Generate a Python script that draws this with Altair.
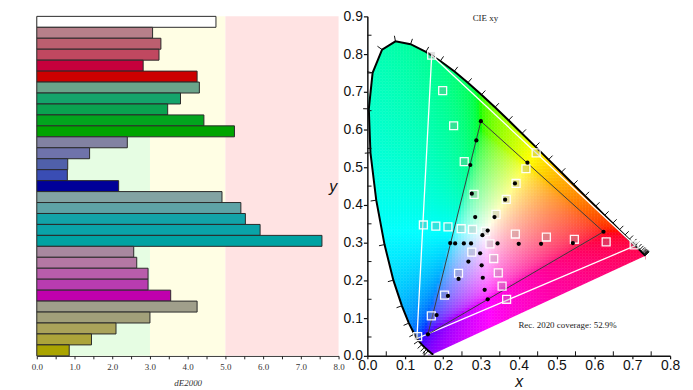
import altair as alt
import numpy as np
import pandas as pd

# ---------------- left panel data ----------------
bar_values = [4.75, 3.07, 3.29, 3.24, 2.82, 4.25, 4.31, 3.81, 3.47, 4.43, 5.24,
              2.40, 1.40, 0.82, 0.81, 2.17, 4.91, 5.41, 5.53, 5.92, 7.56,
              2.57, 2.65, 2.95, 2.95, 3.55, 4.25, 3.00, 2.10, 1.45, 0.86]
bar_colors = ["#ffffff", "#b7808a", "#bc5f6f", "#c04860", "#c6003c", "#cc0000",
              "#6aa48a", "#14a46b", "#0aa250", "#02a51e", "#00a400",
              "#8282a2", "#6f73ab", "#5060aa", "#3a4db4", "#000099",
              "#82a3a3", "#5ea3a6", "#12a3a8", "#0aa3a8", "#00a2a2",
              "#a8889f", "#b478a4", "#b85dab", "#b83cb0", "#c000ad",
              "#a09f8b", "#a2a07a", "#aaa35a", "#aca43a", "#aaa400"]
band_x0 = [0.0, 5.0, 0.0]
band_x1 = [5.0, 8.0, 3.0]
band_row0 = [0, 0, 11]
band_row1 = [31, 31, 31]
band_colors = ["#fffee4", "#ffe3e3", "#e6fde3"]
left_tick_values = [0.0, 0.5, 1.0, 1.5, 2.0, 2.5, 3.0, 3.5, 4.0, 4.5, 5.0, 5.5, 6.0, 6.5, 7.0, 7.5, 8.0]

# ---------------- right panel data ----------------
locus_nm = [380, 385, 390, 395, 400, 405, 410, 415, 420, 425, 430, 435, 440, 445, 450, 455,
            460, 465, 470, 475, 480, 485, 490, 495, 500, 505, 510, 515, 520, 525, 530, 535,
            540, 545, 550, 555, 560, 565, 570, 575, 580, 585, 590, 595, 600, 605, 610, 615,
            620, 625, 630, 635, 640, 645, 650, 655, 660, 665, 670, 675, 680, 690, 700]
locus_x = [0.1741, 0.1740, 0.1738, 0.1736, 0.1733, 0.1730, 0.1726, 0.1721, 0.1714, 0.1703,
           0.1689, 0.1669, 0.1644, 0.1611, 0.1566, 0.1510, 0.1440, 0.1355, 0.1241, 0.1096,
           0.0913, 0.0687, 0.0454, 0.0235, 0.0082, 0.0039, 0.0139, 0.0389, 0.0743, 0.1142,
           0.1547, 0.1929, 0.2296, 0.2658, 0.3016, 0.3373, 0.3731, 0.4087, 0.4441, 0.4788,
           0.5125, 0.5448, 0.5752, 0.6029, 0.6270, 0.6482, 0.6658, 0.6801, 0.6915, 0.7006,
           0.7079, 0.7140, 0.7190, 0.7230, 0.7260, 0.7283, 0.7300, 0.7311, 0.7320, 0.7327,
           0.7334, 0.7344, 0.7347]
locus_y = [0.0050, 0.0050, 0.0049, 0.0049, 0.0048, 0.0048, 0.0048, 0.0048, 0.0051, 0.0058,
           0.0069, 0.0086, 0.0109, 0.0138, 0.0177, 0.0227, 0.0297, 0.0399, 0.0578, 0.0868,
           0.1327, 0.2007, 0.2950, 0.4127, 0.5384, 0.6548, 0.7502, 0.8120, 0.8338, 0.8262,
           0.8059, 0.7816, 0.7543, 0.7243, 0.6923, 0.6589, 0.6245, 0.5896, 0.5547, 0.5202,
           0.4866, 0.4544, 0.4242, 0.3965, 0.3725, 0.3514, 0.3340, 0.3197, 0.3083, 0.2993,
           0.2920, 0.2859, 0.2809, 0.2770, 0.2740, 0.2717, 0.2700, 0.2689, 0.2680, 0.2673,
           0.2666, 0.2656, 0.2653]

rec2020_x = [0.708, 0.170, 0.131, 0.708]
rec2020_y = [0.292, 0.797, 0.046, 0.292]
gamut_x = [0.624, 0.300, 0.160, 0.624]
gamut_y = [0.329, 0.622, 0.057, 0.329]

target_x = [0.170, 0.199, 0.228, 0.256, 0.282,
            0.340, 0.367, 0.393, 0.419, 0.446,
            0.391, 0.473, 0.547, 0.631, 0.705,
            0.324, 0.334, 0.346, 0.356, 0.368,
            0.276, 0.241, 0.204, 0.169, 0.133,
            0.278, 0.248, 0.213, 0.181, 0.148,
            0.312]
target_y = [0.797, 0.703, 0.610, 0.515, 0.428,
            0.375, 0.415, 0.457, 0.496, 0.538,
            0.323, 0.315, 0.309, 0.302, 0.294,
            0.297, 0.258, 0.220, 0.185, 0.150,
            0.275, 0.219, 0.161, 0.106, 0.051,
            0.335, 0.337, 0.342, 0.344, 0.347,
            0.330]
meas_x = [0.300, 0.288, 0.272, 0.276, 0.285,
          0.423, 0.390, 0.364, 0.336, 0.318,
          0.624, 0.543, 0.459, 0.400, 0.344,
          0.318, 0.310, 0.305, 0.302, 0.298,
          0.160, 0.183, 0.213, 0.241, 0.267,
          0.219, 0.232, 0.255, 0.274,
          0.304]
meas_y = [0.622, 0.571, 0.506, 0.430, 0.368,
          0.512, 0.457, 0.414, 0.368, 0.332,
          0.329, 0.299, 0.297, 0.297, 0.298,
          0.150, 0.175, 0.207, 0.240, 0.272,
          0.057, 0.108, 0.159, 0.204, 0.250,
          0.299, 0.298, 0.298, 0.298,
          0.320]

x_ticks = [0.0, 0.1, 0.2, 0.3, 0.4, 0.5, 0.6, 0.7, 0.8]
y_ticks = [0.0, 0.1, 0.2, 0.3, 0.4, 0.5, 0.6, 0.7, 0.8, 0.9]
x_minor = [0.05, 0.15, 0.25, 0.35, 0.45, 0.55, 0.65, 0.75]
y_minor = [0.05, 0.15, 0.25, 0.35, 0.45, 0.55, 0.65, 0.75, 0.85]
white_point = (0.3127, 0.3290)
coverage_text = "Rec. 2020 coverage: 52.9%"

# ================= LEFT PANEL =================
bars_df = pd.DataFrame({"r0": list(range(31)), "r1": list(range(1, 32)),
                        "v0": [0.0] * 31, "v": bar_values, "c": bar_colors})
bands_df = pd.DataFrame({"x0": band_x0, "x1": band_x1, "r0": band_row0,
                         "r1": band_row1, "c": band_colors})

xl = alt.Scale(domain=[0, 8], nice=False)
yl = alt.Scale(domain=[0, 31], reverse=True, nice=False)
xaxis_l = alt.Axis(values=left_tick_values,
                   labelExpr="datum.value % 1 === 0 ? format(datum.value, '.1f') : ''",
                   title="dE2000", titleFont="Liberation Serif", titleFontStyle="italic",
                   titleFontWeight="normal", titleFontSize=9, titleColor="#333",
                   titleY=27, titleBaseline="middle",
                   labelFont="Liberation Serif", labelFontSize=9, labelColor="#333",
                   tickSize=3, tickColor="#222", domainColor="#222", labelPadding=4,
                   labelFlush=False, grid=False)
yaxis_l = alt.Axis(labels=False, ticks=False, title="", domainColor="#222", grid=False)

bands = alt.Chart(bands_df).mark_rect().encode(
    x=alt.X("x0:Q", scale=xl, axis=xaxis_l), x2="x1:Q",
    y=alt.Y("r0:Q", scale=yl, axis=yaxis_l), y2="r1:Q",
    fill=alt.Fill("c:N", scale=None))
bars = alt.Chart(bars_df).mark_rect(stroke="#2a2a2a", strokeWidth=1).encode(
    x=alt.X("v0:Q", scale=xl, axis=xaxis_l), x2="v:Q",
    y=alt.Y("r0:Q", scale=yl, axis=yaxis_l), y2="r1:Q",
    fill=alt.Fill("c:N", scale=None))
left = alt.layer(bands, bars).properties(width=304, height=342)

# ================= RIGHT PANEL =================
lx = np.array(locus_x)
ly = np.array(locus_y)

def inside(px, py):
    c = np.zeros(px.shape, dtype=bool)
    n = len(lx)
    j = n - 1
    for i in range(n):
        cond = ((ly[i] > py) != (ly[j] > py)) & \
               (px < (lx[j] - lx[i]) * (py - ly[i]) / (ly[j] - ly[i] + 1e-12) + lx[i])
        c ^= cond
        j = i
    return c

M = np.array([[3.2406, -1.5372, -0.4986],
              [-0.9689, 1.8758, 0.0415],
              [0.0557, -0.2040, 1.0570]])

def xy_color(x, y):
    X = x / y
    Z = (1 - x - y) / y
    rgb = M @ np.array([X, 1.0, Z])
    m = rgb.min()
    if m < 0:
        rgb = rgb - m
    rgb = rgb / rgb.max()
    rgb = np.where(rgb <= 0.0031308, 12.92 * rgb, 1.055 * np.power(np.maximum(rgb, 0), 1 / 2.4) - 0.055)
    r, g, b = (np.clip(rgb, 0, 1) * 255).round().astype(int)
    return "#%02x%02x%02x" % (r, g, b)

step = 0.008
h = step / 2
gx, gy = np.meshgrid(np.arange(h, 0.8, step), np.arange(h, 0.9, step))
gx = gx.ravel()
gy = gy.ravel()
keep = inside(gx, gy)
for dx in (-h, h):
    for dy in (-h, h):
        keep |= inside(gx + dx, gy + dy)
gx = gx[keep]
gy = gy[keep]
cells_df = pd.DataFrame({
    "x0": np.maximum(gx - h, lx.min()), "x1": np.minimum(gx + h, lx.max()),
    "y0": np.maximum(gy - h, ly.min()), "y1": np.minimum(gy + h, ly.max()),
    "c": [xy_color(max(a, 0.001), max(b, 0.003)) for a, b in zip(gx, gy)]})

xr = alt.Scale(domain=[0, 0.8], nice=False)
yr = alt.Scale(domain=[0, 0.9], nice=False)
xaxis_r = alt.Axis(values=x_ticks, format=".1f", title="x", titleFont="Liberation Sans",
                   titleFontStyle="italic", titleFontWeight="normal", titleFontSize=16,
                   titleColor="#111", titleY=26, titleBaseline="middle",
                   labelFont="Liberation Sans", labelFontSize=14, labelColor="#111",
                   tickSize=3, tickWidth=1.2, tickColor="#111", domainColor="#111",
                   domainWidth=1.5, labelPadding=0, zindex=1, labelFlush=False, grid=False)
yaxis_r = alt.Axis(values=y_ticks, format=".1f", title="y", titleAngle=0, titleX=-35,
                   titleY=171, titleAlign="center", titleBaseline="middle",
                   titleFont="Liberation Sans", titleFontStyle="italic",
                   titleFontWeight="normal", titleFontSize=16, titleColor="#111",
                   labelFont="Liberation Sans", labelFontSize=14, labelColor="#111",
                   tickSize=4, tickWidth=1.2, tickColor="#111", domainColor="#111",
                   domainWidth=1.5, labelPadding=1, zindex=1, labelFlush=False, grid=False)

def X(f):
    return alt.X(f, type="quantitative", scale=xr, axis=xaxis_r)

def Y(f):
    return alt.Y(f, type="quantitative", scale=yr, axis=yaxis_r)

cells = alt.Chart(cells_df).mark_rect(strokeWidth=0.5).encode(
    x=X("x0"), x2="x1:Q", y=Y("y0"), y2="y1:Q",
    fill=alt.Fill("c:N", scale=None), stroke=alt.Stroke("c:N", scale=None))

locus_df = pd.DataFrame({"nm": locus_nm, "x": locus_x, "y": locus_y})
top_df = locus_df[locus_df.nm >= 505].assign(top=0.9)
left_df = locus_df[locus_df.nm <= 505].assign(zero=0.0)
bot_df = locus_df.iloc[[0, len(locus_df) - 1]].assign(zero=0.0)

top_cover = alt.Chart(top_df).mark_area(color="white").encode(x=X("x"), y=Y("y"), y2="top:Q")
left_cover = alt.Chart(left_df).mark_area(color="white", orient="horizontal").encode(
    y=Y("y"), x=X("x"), x2="zero:Q")
bot_cover = alt.Chart(bot_df).mark_area(color="white").encode(x=X("x"), y=Y("y"), y2="zero:Q")

locus_line = alt.Chart(locus_df).mark_line(color="black", strokeWidth=2).encode(
    x=X("x"), y=Y("y"), order="nm:Q")

# wavelength ticks, perpendicular to the locus, pointing outward
rows = []
tl = 0.015
for i in range(1, len(locus_nm) - 1):
    if locus_nm[i] < 445:
        continue
    tx = lx[i + 1] - lx[i - 1]
    ty = ly[i + 1] - ly[i - 1]
    nx, ny = ty, -tx
    nrm = np.hypot(nx, ny)
    nx, ny = nx / nrm, ny / nrm
    if nx * (lx[i] - white_point[0]) + ny * (ly[i] - white_point[1]) < 0:
        nx, ny = -nx, -ny
    rows.append({"x": lx[i], "y": ly[i], "x2": lx[i] + tl * nx, "y2": ly[i] + tl * ny})
wl_df = pd.DataFrame(rows)
wl_ticks = alt.Chart(wl_df).mark_rule(color="#111", strokeWidth=1).encode(
    x=X("x"), y=Y("y"), x2="x2:Q", y2="y2:Q")

xm_df = pd.DataFrame({"x": x_minor, "y0": [0.0] * len(x_minor), "y1": [0.012] * len(x_minor)})
ym_df = pd.DataFrame({"y": y_minor, "x0": [0.0] * len(y_minor), "x1": [0.011] * len(y_minor)})
xminor = alt.Chart(xm_df).mark_rule(color="#111", strokeWidth=1).encode(x=X("x"), y=Y("y0"), y2="y1:Q")
yminor = alt.Chart(ym_df).mark_rule(color="#111", strokeWidth=1).encode(y=Y("y"), x=X("x0"), x2="x1:Q")

rec_df = pd.DataFrame({"i": range(4), "x": rec2020_x, "y": rec2020_y})
gam_df = pd.DataFrame({"i": range(4), "x": gamut_x, "y": gamut_y})
rec_line = alt.Chart(rec_df).mark_line(color="white", strokeWidth=1.3).encode(
    x=X("x"), y=Y("y"), order="i:Q")
gam_line = alt.Chart(gam_df).mark_line(color="#3c3c3c", strokeWidth=1).encode(
    x=X("x"), y=Y("y"), order="i:Q")

tgt_df = pd.DataFrame({"x": target_x, "y": target_y})
mea_df = pd.DataFrame({"x": meas_x, "y": meas_y})
squares = alt.Chart(tgt_df).mark_square(size=64, fill="#a0a0a0", fillOpacity=0.3,
                                        stroke="white", strokeWidth=1.3, strokeOpacity=0.95).encode(
    x=X("x"), y=Y("y"))
dots = alt.Chart(mea_df).mark_circle(size=18, color="black", opacity=1).encode(x=X("x"), y=Y("y"))

title_df = pd.DataFrame({"x": [0.312], "y": [0.896], "t": ["CIE xy"]})
cov_df = pd.DataFrame({"x": [0.529], "y": [0.082], "t": [coverage_text]})
title_txt = alt.Chart(title_df).mark_text(font="Liberation Serif", fontSize=9, color="#222").encode(
    x=X("x"), y=Y("y"), text="t:N")
cov_txt = alt.Chart(cov_df).mark_text(font="Liberation Serif", fontSize=9, color="#222").encode(
    x=X("x"), y=Y("y"), text="t:N")

right = alt.layer(cells, top_cover, left_cover, bot_cover, locus_line, wl_ticks,
                  xminor, yminor, rec_line, gam_line, squares, dots,
                  title_txt, cov_txt).properties(width=305, height=342)

chart = alt.hconcat(left, right, spacing=29, bounds="flush").properties(
    padding={"left": 23, "top": 0, "right": 5, "bottom": 2}
).configure_view(stroke=None).configure_axis(grid=False)

chart.save("out.html", embed_options={"renderer": "svg", "actions": False})
